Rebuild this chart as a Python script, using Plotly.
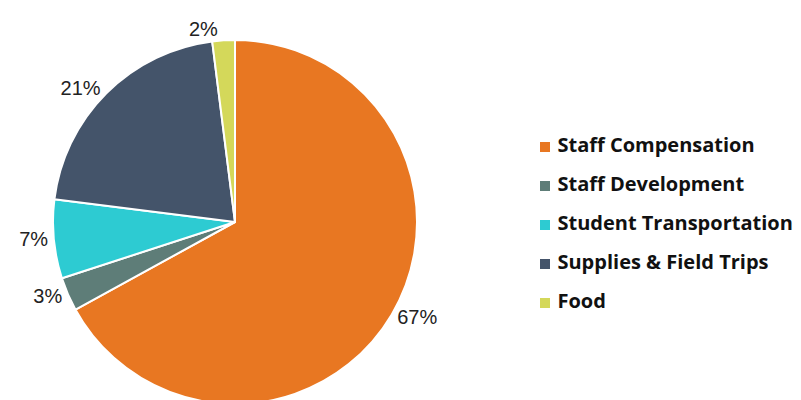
import plotly.graph_objects as go

categories = ["Staff Compensation", "Staff Development", "Student Transportation",
              "Supplies & Field Trips", "Food"]
shares = [67, 3, 7, 21, 2]
colors = ["#E87722", "#5E7D78", "#2DCBD2", "#44546A", "#D4D85A"]

W, H = 801, 420
cx, cy, r = 235, 222, 182

fig = go.Figure()

fig.add_trace(go.Pie(
    labels=categories,
    values=shares,
    sort=False,
    direction="clockwise",
    rotation=0,
    texttemplate="%{percent:.0%}",
    textposition="outside",
    textfont=dict(family="Liberation Sans, Arial", size=20, color="#222222"),
    marker=dict(colors=colors, line=dict(color="white", width=2)),
    showlegend=False,
    hoverinfo="label+percent",
    domain=dict(x=[(cx - r) / W, (cx + r) / W],
                y=[(H - (cy + r)) / H, (H - (cy - r)) / H]),
))

# legend drawn as a marker+text column on hidden axes (tighter than plotly's legend)
fig.add_trace(go.Scatter(
    x=[0] * len(categories),
    y=list(range(len(categories))),
    mode="markers+text",
    text=categories,
    texttemplate="&nbsp;%{text}",
    textposition="middle right",
    textfont=dict(family="Open Sans", size=20, color="#111111", weight="bold"),
    marker=dict(symbol="square", size=10, color=colors),
    cliponaxis=False,
    showlegend=False,
    hoverinfo="skip",
))

fig.update_layout(
    width=W, height=H,
    margin=dict(l=0, r=0, t=0, b=0),
    paper_bgcolor="white", plot_bgcolor="white",
    xaxis=dict(visible=False, domain=[545 / W, 1], range=[0, 1]),
    yaxis=dict(visible=False, domain=[(H - 303) / H, (H - 147) / H],
               range=[len(categories) - 1, 0]),
)

fig.write_html("out.html", config={"displayModeBar": False},
               post_script="document.body.style.overflow='hidden';document.body.style.margin='0';")
